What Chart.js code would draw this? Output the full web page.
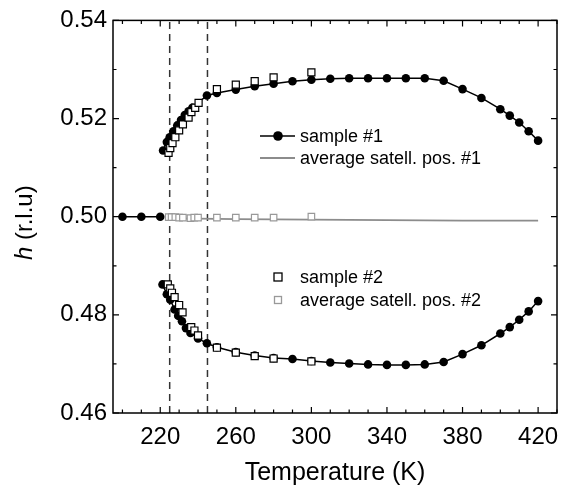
<!DOCTYPE html>
<html>
<head>
<meta charset="utf-8">
<script src="https://cdn.jsdelivr.net/npm/chart.js@4"></script>
<style>
  html, body { margin: 0; padding: 0; background: #fff; }
  #wrap { width: 584px; height: 488px; }
</style>
</head>
<body>
<div id="wrap"><canvas id="myChart" width="584" height="488"></canvas></div>
<script>
// x ticks and y ticks
const xTicks = [220, 260, 300, 340, 380, 420];
const yTicks = [0.46, 0.48, 0.50, 0.52, 0.54];
const dashedAt = [225, 245];

// sample #1, upper branch (filled circles)
const s1UpT = [221.5, 223.5, 225, 227, 229, 231, 233, 235, 237, 244.7, 250, 260, 270, 280, 290, 300, 310, 320, 330, 340, 350, 360, 370, 380, 390, 400, 405, 410, 415, 420];
const s1UpH = [0.5135, 0.5152, 0.5162, 0.5174, 0.5186, 0.5197, 0.5207, 0.5215, 0.5222, 0.5247, 0.5252, 0.5259, 0.5266, 0.5271, 0.5276, 0.5279, 0.5281, 0.5282, 0.5282, 0.5282, 0.5282, 0.5282, 0.5277, 0.5260, 0.5242, 0.5219, 0.5206, 0.5192, 0.5174, 0.5155];
// sample #1, lower branch
const s1LoT = [221.2, 223.5, 225.3, 227.6, 229.5, 231.5, 233.6, 236, 240, 244.7, 250, 260, 270, 280, 290, 300, 310, 320, 330, 340, 350, 360, 370, 380, 390, 400, 405, 410, 415, 420];
const s1LoH = [0.4862, 0.4842, 0.4831, 0.4811, 0.4798, 0.4787, 0.4773, 0.4763, 0.4752, 0.4742, 0.4734, 0.4724, 0.4717, 0.4712, 0.4710, 0.4706, 0.4703, 0.4701, 0.4699, 0.4698, 0.4698, 0.4699, 0.4704, 0.4720, 0.4738, 0.4762, 0.4775, 0.4790, 0.4807, 0.4828];
// sample #1 above the transition
const s1HiT = [200, 210, 220];
const s1HiH = [0.5000, 0.5000, 0.5000];

// sample #2 (open squares)
const s2UpT = [224.4, 225.3, 226.5, 228, 230, 232, 235, 236.5, 238.5, 240.3, 250, 260, 270, 280, 300];
const s2UpH = [0.5130, 0.5140, 0.5150, 0.5162, 0.5176, 0.5188, 0.5202, 0.5213, 0.5222, 0.5232, 0.5260, 0.5269, 0.5276, 0.5284, 0.5294];
const s2LoT = [224, 225.3, 226.2, 227.6, 230, 231.8, 236.4, 238.1, 240, 250, 260, 270, 280, 300];
const s2LoH = [0.4862, 0.4854, 0.4845, 0.4836, 0.4820, 0.4805, 0.4775, 0.4768, 0.4758, 0.4733, 0.4723, 0.4716, 0.4711, 0.4705];

// average satellite positions
const avg1T = [223, 240, 260, 300, 340, 380, 420];
const avg1H = [0.49966, 0.4996, 0.4995, 0.4994, 0.4993, 0.4992, 0.4992];
const avg2T = [224.5, 226, 228, 230, 232, 236, 238, 240, 250, 260, 270, 280, 300];
const avg2H = [0.4999, 0.4999, 0.4999, 0.4998, 0.4998, 0.4997, 0.4998, 0.4998, 0.4998, 0.4998, 0.4998, 0.4998, 0.5000];

const pts = (t, h) => t.map((v, i) => ({x: v, y: h[i]}));
const FONT = "'Liberation Sans', Arial, sans-serif";

const circleStyle = {
    borderColor: '#000', backgroundColor: '#000', borderWidth: 1.5,
    pointStyle: 'circle', pointRadius: 4.3, pointBackgroundColor: '#000', pointBorderWidth: 0,
    tension: 0, showLine: true
};
const squareStyle = {
    showLine: false, pointStyle: 'rect', pointRadius: 5,
    pointBackgroundColor: '#fff', pointBorderColor: '#000', pointBorderWidth: 1.2
};
const graySquareStyle = {
    showLine: false, pointStyle: 'rect', pointRadius: 4.6,
    pointBackgroundColor: '#fff', pointBorderColor: '#999', pointBorderWidth: 1.2
};

const datasets = [];
dashedAt.forEach(t => datasets.push({
    data: [{x: t, y: yTicks[0]}, {x: t, y: yTicks[yTicks.length - 1]}],
    borderColor: '#333', borderWidth: 1.5, borderDash: [7, 5], pointRadius: 0, showLine: true, order: 10
}));
datasets.push(Object.assign({data: pts(avg1T, avg1H), borderColor: '#8c8c8c', borderWidth: 1.8, pointRadius: 0, showLine: true, order: 9}));
datasets.push(Object.assign({data: pts(s1HiT, s1HiH), order: 8}, circleStyle));
datasets.push(Object.assign({data: pts(s1UpT, s1UpH), order: 8}, circleStyle));
datasets.push(Object.assign({data: pts(s1LoT, s1LoH), order: 8}, circleStyle));
datasets.push(Object.assign({data: pts(avg2T, avg2H), order: 5}, graySquareStyle));
datasets.push(Object.assign({data: pts(s2UpT, s2UpH), order: 4}, squareStyle));
datasets.push(Object.assign({data: pts(s2LoT, s2LoH), order: 4}, squareStyle));

// frame, inward ticks, legends and y title
const decor = {
    id: 'decor',
    afterDraw(chart) {
        const ctx = chart.ctx;
        const a = chart.chartArea;
        const xs = chart.scales.x, ys = chart.scales.y;
        ctx.save();
        ctx.strokeStyle = '#000';
        ctx.lineWidth = 1.5;
        ctx.strokeRect(a.left, a.top, a.right - a.left, a.bottom - a.top);
        ctx.lineWidth = 1.2;
        ctx.beginPath();
        for (let t = 200; t <= 430; t += 10) {
            const px = xs.getPixelForValue(t);
            const len = xTicks.includes(t) ? 6 : 3.5;
            ctx.moveTo(px, a.bottom); ctx.lineTo(px, a.bottom - len);
            ctx.moveTo(px, a.top); ctx.lineTo(px, a.top + len);
        }
        for (let k = 0; k <= 8; k++) {
            const v = 0.46 + k * 0.01;
            const py = ys.getPixelForValue(v);
            const len = k % 2 === 0 ? 6 : 3.5;
            ctx.moveTo(a.left, py); ctx.lineTo(a.left + len, py);
            ctx.moveTo(a.right, py); ctx.lineTo(a.right - len, py);
        }
        ctx.stroke();

        // legends
        ctx.font = '18px ' + FONT;
        ctx.fillStyle = '#000';
        ctx.textBaseline = 'middle';
        ctx.textAlign = 'left';
        const lx = a.left + 147, tx = a.left + 187;
        ctx.strokeStyle = '#000'; ctx.lineWidth = 1.5;
        ctx.beginPath(); ctx.moveTo(lx, 136); ctx.lineTo(lx + 35, 136); ctx.stroke();
        ctx.beginPath(); ctx.arc(lx + 18, 136, 4.8, 0, Math.PI * 2); ctx.fill();
        ctx.fillText('sample #1', tx, 137);
        ctx.strokeStyle = '#8c8c8c'; ctx.lineWidth = 1.8;
        ctx.beginPath(); ctx.moveTo(lx, 158); ctx.lineTo(lx + 35, 158); ctx.stroke();
        ctx.fillText('average satell. pos. #1', tx, 159);

        ctx.fillStyle = '#fff';
        ctx.strokeStyle = '#000'; ctx.lineWidth = 1.3;
        ctx.fillRect(lx + 14, 273, 8, 8); ctx.strokeRect(lx + 14, 273, 8, 8);
        ctx.strokeStyle = '#999';
        ctx.fillRect(lx + 14.5, 296.5, 7, 7); ctx.strokeRect(lx + 14.5, 296.5, 7, 7);
        ctx.fillStyle = '#000';
        ctx.fillText('sample #2', tx, 278);
        ctx.fillText('average satell. pos. #2', tx, 301);

        // y axis title with italic h
        ctx.translate(25, (a.top + a.bottom) / 2 + 6);
        ctx.rotate(-Math.PI / 2);
        ctx.font = 'italic 24px ' + FONT;
        const w1 = ctx.measureText('h').width;
        ctx.font = '24px ' + FONT;
        const w2 = ctx.measureText(' (r.l.u)').width;
        ctx.textAlign = 'left';
        ctx.font = 'italic 24px ' + FONT;
        ctx.fillText('h', -(w1 + w2) / 2, 0);
        ctx.font = '24px ' + FONT;
        ctx.fillText(' (r.l.u)', -(w1 + w2) / 2 + w1, 0);
        ctx.restore();
    }
};

const ctx = document.getElementById('myChart');
const myChart = new Chart(ctx, {
    type: 'scatter',
    data: { datasets: datasets },
    plugins: [decor],
    options: {
        responsive: false,
        animation: false,
        devicePixelRatio: 1,
        layout: { padding: { left: 0, right: 27, top: 15, bottom: 0 } },
        plugins: { legend: { display: false }, tooltip: { enabled: false } },
        scales: {
            x: {
                type: 'linear', min: 195, max: 430,
                grid: { display: false, drawTicks: false },
                border: { display: false },
                afterBuildTicks: s => { s.ticks = xTicks.map(v => ({value: v})); },
                afterFit: s => { s.height = 75; },
                ticks: { color: '#000', padding: 10, font: { size: 24, family: FONT }, callback: v => String(v) },
                title: { display: true, text: 'Temperature (K)', color: '#000', padding: { top: 0, bottom: 0 }, font: { size: 25, family: FONT } }
            },
            y: {
                type: 'linear', min: 0.46, max: 0.54,
                grid: { display: false, drawTicks: false },
                border: { display: false },
                afterBuildTicks: s => { s.ticks = yTicks.map(v => ({value: v})); },
                afterFit: s => { s.width = 113; },
                ticks: { color: '#000', padding: 6, font: { size: 24, family: FONT }, callback: v => v.toFixed(2) }
            }
        }
    }
});
</script>
</body>
</html>
